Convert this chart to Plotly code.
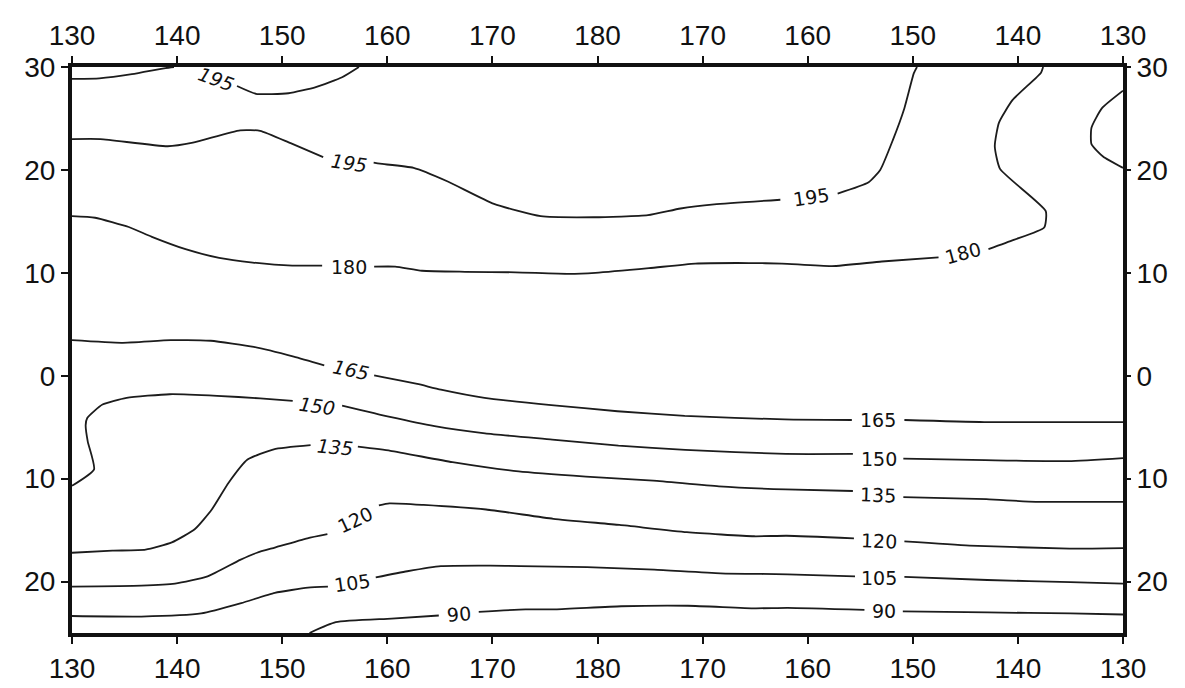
import plotly.graph_objects as go

# Longitude is continuous (130E .. 180 .. 130W = 230); latitude in degrees
lon_ticks = [130, 140, 150, 160, 170, 180, 190, 200, 210, 220, 230]
lon_tick_text = ["130", "140", "150", "160", "170", "180", "170", "160", "150", "140", "130"]
lat_ticks = [-20, -10, 0, 10, 20, 30]
lat_tick_text = ["20", "10", "0", "10", "20", "30"]

# Contour lines (None = gap where a label sits)
lon_195_nw = [130.0, 130.2, 132.6, 135.7, 138.9, 139.7, None, 145.7, 147.5, 150.6, 153.2, 155.7, 157.3]
lat_195_nw = [28.85, 28.85, 28.9, 29.3, 29.9, 30.0, None, 28.15, 27.4, 27.45, 28.05, 29.0, 30.0]

lon_195 = [130.0, 132.7, 139.1, 141.5, 146.0, 147.9, 150.8, 153.9, None,
           158.7, 159.3, 162.5, 165.7, 170.15, 174.6, 179.65, 184.8, 187.9, 191.1, 197.4, None,
           202.85, 205.8, 206.9, 208.1, 209.2, 210.1, 210.4]
lat_195 = [23.0, 23.0, 22.3, 22.65, 23.85, 23.8, 22.6, 21.25, None,
           20.7, 20.6, 20.2, 18.9, 16.7, 15.5, 15.4, 15.6, 16.25, 16.65, 17.1, None,
           17.7, 18.8, 20.0, 22.9, 26.0, 29.4, 30.0]

lon_195_e = [230.0, 228.0, 227.0, 227.0, 228.1, 230.0]
lat_195_e = [27.7, 26.0, 24.1, 22.5, 21.3, 20.2]

lon_180 = [130.0, 132.2, 135.4, 137.6, 140.8, 144.0, 147.2, 150.95, 153.8, None,
           158.75, 160.75, 163.3, 167.4, 172.2, 177.3, 179.8, 184.9, 189.3, 194.4, 197.55,
           202.3, 207.05, 212.45, None,
           217.2, 219.6, 222.5, 222.65, 218.3, 217.8, 218.2, 219.5, 222.2, 222.4]
lat_180 = [15.5, 15.35, 14.45, 13.5, 12.3, 11.45, 11.0, 10.7, 10.7, None,
           10.6, 10.6, 10.2, 10.1, 10.05, 9.9, 10.0, 10.45, 10.9, 10.95, 10.9,
           10.65, 11.1, 11.5, None,
           12.3, 13.2, 14.4, 16.0, 20.1, 22.3, 24.6, 26.8, 29.45, 30.0]

lon_165 = [130.0, 134.7, 139.4, 143.2, 147.3, 151.1, 154.0, None,
           158.75, 159.7, 162.85, 165.1, 169.25, 175.6, 181.9, 188.3, 197.8, 204.2, None,
           209.2, 216.8, 230.0]
lat_165 = [3.45, 3.2, 3.45, 3.4, 2.8, 1.85, 1.0, None,
           0.03, -0.15, -0.8, -1.35, -2.15, -2.85, -3.45, -3.9, -4.25, -4.3, None,
           -4.3, -4.5, -4.5]

lon_150 = [130.0, 132.1, 131.5, 131.3, 131.45, 132.9, 135.2, 139.3, 143.8, 147.9, 151.0, None,
           155.7, 160.25, 164.5, 169.3, 175.7, 182.0, 188.35, 197.9, 204.3, None,
           209.1, 216.9, 224.8, 230.0]
lat_150 = [-10.7, -9.1, -6.4, -4.8, -4.1, -2.8, -2.15, -1.8, -1.95, -2.2, -2.45, None,
           -2.9, -4.0, -4.9, -5.6, -6.2, -6.8, -7.2, -7.6, -7.6, None,
           -8.05, -8.2, -8.3, -8.0]

lon_135 = [130.0, 133.85, 137.0, 139.5, 141.7, 143.3, 144.9, 146.7, 149.2, 152.7, None,
           157.2, 160.3, 166.2, 172.5, 178.9, 185.3, 191.55, 197.9, 204.3, None,
           209.1, 217.0, 221.7, 230.0]
lat_135 = [-17.2, -17.0, -16.9, -16.2, -14.9, -13.0, -10.4, -8.15, -7.15, -6.75, None,
           -6.9, -7.3, -8.4, -9.3, -9.8, -10.2, -10.75, -11.05, -11.2, None,
           -11.8, -12.0, -12.25, -12.25]

lon_120 = [130.0, 136.6, 139.8, 142.9, 146.0, 147.6, 149.3, 152.4, 154.3, None,
           159.2, 160.2, 163.45, 169.4, 175.8, 182.1, 188.5, 194.9, 198.0, 204.4, None,
           209.2, 215.4, 224.9, 230.0]
lat_120 = [-20.5, -20.4, -20.2, -19.5, -17.9, -17.2, -16.7, -15.8, -15.4, None,
           -12.6, -12.4, -12.55, -13.0, -13.9, -14.5, -15.2, -15.6, -15.55, -15.8, None,
           -16.1, -16.5, -16.8, -16.75]

lon_105 = [130.0, 136.6, 142.3, 146.1, 149.3, 152.45, 154.35, None,
           158.9, 161.9, 165.1, 169.8, 172.65, 179.0, 185.4, 191.7, 198.1, 204.5, None,
           209.2, 217.1, 225.0, 230.0]
lat_105 = [-23.35, -23.4, -23.1, -22.1, -21.1, -20.6, -20.5, None,
           -19.6, -19.0, -18.5, -18.45, -18.5, -18.6, -18.85, -19.2, -19.3, -19.5, None,
           -19.55, -19.85, -20.05, -20.2]

lon_90 = [152.6, 155.1, 160.4, 164.9, None,
          168.7, 173.15, 176.0, 182.25, 188.6, 195.0, 198.1, 205.4, None,
          209.05, 217.1, 225.0, 230.0]
lat_90 = [-25.0, -23.95, -23.6, -23.3, None,
          -22.95, -22.7, -22.7, -22.4, -22.35, -22.6, -22.55, -22.75, None,
          -22.9, -23.0, -23.1, -23.2]

# Contour labels
label_text = ["195", "195", "195", "180", "180", "165", "165", "150", "150",
              "135", "135", "120", "120", "105", "105", "90", "90"]
label_lon = [143.7, 156.4, 200.3, 156.4, 214.8, 156.55, 206.7, 153.3, 206.8,
             155.0, 206.7, 156.9, 206.8, 156.6, 206.8, 166.85, 207.3]
label_lat = [28.8, 20.7, 17.4, 10.6, 11.9, 0.6, -4.35, -2.9, -8.1,
             -6.9, -11.6, -14.0, -16.1, -20.1, -19.7, -23.2, -22.9]
label_angle = [20, 8, -8, 0, -15, 12, 0, 8, 0, 5, 2, -25, 2, -8, 0, -5, 0]
label_italic = [True, True, False, False, False, True, False, True, False,
                True, False, False, False, False, False, False, False]

contours = [
    (lon_195_nw, lat_195_nw), (lon_195, lat_195), (lon_195_e, lat_195_e),
    (lon_180, lat_180), (lon_165, lat_165), (lon_150, lat_150),
    (lon_135, lat_135), (lon_120, lat_120), (lon_105, lat_105), (lon_90, lat_90),
]

LINE = "#1c1c1c"
fig = go.Figure()
for lo, la in contours:
    fig.add_trace(go.Scatter(
        x=lo, y=la, mode="lines", connectgaps=False,
        line=dict(color=LINE, width=1.8, shape="spline", smoothing=0.5),
        hoverinfo="skip", showlegend=False))

# dummy trace so the top/right axes render
fig.add_trace(go.Scatter(x=[None], y=[None], xaxis="x2", yaxis="y2",
                         mode="lines", showlegend=False, hoverinfo="skip"))

for t, x, y, a, it in zip(label_text, label_lon, label_lat, label_angle, label_italic):
    fig.add_annotation(x=x, y=y, text=(f"<i>{t}</i>" if it else t), textangle=a,
                       showarrow=False, xref="x", yref="y",
                       font=dict(family="DejaVu Sans", size=19, color="#111"))

tickfont = dict(family="Liberation Sans", size=28, color="#111")
common_x = dict(range=[130, 230], tickmode="array", tickvals=lon_ticks, ticktext=lon_tick_text,
                showgrid=False, zeroline=False, ticks="outside", tickcolor="#111",
                tickwidth=1.5, tickfont=tickfont)
common_y = dict(range=[-25, 30], tickmode="array", tickvals=lat_ticks, ticktext=lat_tick_text,
                showgrid=False, zeroline=False, ticks="outside", tickcolor="#111",
                tickwidth=1.5, tickfont=tickfont)

fig.update_layout(
    width=1185, height=688,
    margin=dict(l=64, r=70, t=57, b=54),
    paper_bgcolor="white", plot_bgcolor="white",
    xaxis=dict(**common_x, side="bottom", ticklen=7, showline=True, linewidth=4,
               linecolor="#111", mirror=True),
    yaxis=dict(**common_y, side="left", ticklen=7, showline=True, linewidth=4,
               linecolor="#111", mirror=True),
    xaxis2=dict(**common_x, side="top", overlaying="x", ticklen=10, showline=False),
    yaxis2=dict(**common_y, side="right", overlaying="y", ticklen=7, showline=False),
)

fig.write_html("out.html")
